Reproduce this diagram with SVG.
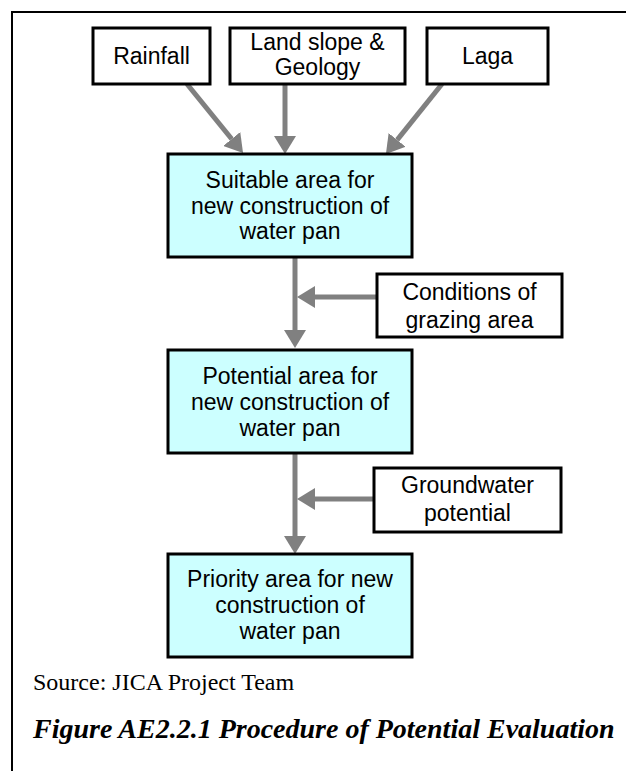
<svg xmlns="http://www.w3.org/2000/svg" width="626" height="771" viewBox="0 0 626 771">
<style>
.box{fill:#ffffff;stroke:#000000;stroke-width:3}
.hl{fill:#ccffff;stroke:#000000;stroke-width:3}
.t{font-family:"Liberation Sans",Arial,sans-serif;font-size:23px;fill:#000000;text-anchor:middle}
.c{stroke:#808080;stroke-width:5;fill:none;marker-end:url(#ah)}
.src{font-family:"Liberation Serif","Times New Roman",serif;font-size:24px;fill:#000000}
.cap{font-family:"Liberation Serif","Times New Roman",serif;font-size:28px;font-weight:bold;font-style:italic;fill:#000000}
</style>
<defs>
<marker id="ah" markerUnits="userSpaceOnUse" markerWidth="18" markerHeight="22" refX="0" refY="11" orient="auto" viewBox="0 0 18 22">
<path d="M0,0 L18,11 L0,22 Z" fill="#808080"/>
</marker>
</defs>
<rect width="626" height="771" fill="#ffffff"/>
<path d="M12,771 L12,12 L626,12" fill="none" stroke="#000000" stroke-width="2"/>
<g id="connectors">
<line class="c" x1="187" y1="84" x2="231.7" y2="139"/>
<line class="c" x1="285" y1="84" x2="285" y2="136"/>
<line class="c" x1="442" y1="84" x2="397.2" y2="139.9"/>
<line class="c" x1="295" y1="257" x2="295" y2="330"/>
<line class="c" x1="377" y1="297" x2="315" y2="297"/>
<line class="c" x1="295" y1="453" x2="295" y2="536"/>
<line class="c" x1="374" y1="499" x2="315" y2="499"/>
</g>
<g id="rainfall">
<rect class="box" x="93" y="28" width="117" height="56"/>
<text class="t" x="151.5" y="64">Rainfall</text>
</g>
<g id="landslope">
<rect class="box" x="230" y="28" width="175" height="56"/>
<text class="t" x="317.5" y="50">Land slope &amp;</text>
<text class="t" x="317.5" y="75">Geology</text>
</g>
<g id="laga">
<rect class="box" x="427" y="28" width="121" height="56"/>
<text class="t" x="487.5" y="64">Laga</text>
</g>
<g id="suitable">
<rect class="hl" x="168" y="154" width="244" height="103"/>
<text class="t" x="290" y="188">Suitable area for</text>
<text class="t" x="290" y="213.5">new construction of</text>
<text class="t" x="290" y="239">water pan</text>
</g>
<g id="conditions">
<rect class="box" x="377" y="274" width="185" height="63"/>
<text class="t" x="469.5" y="300">Conditions of</text>
<text class="t" x="469.5" y="328">grazing area</text>
</g>
<g id="potential">
<rect class="hl" x="168" y="350" width="244" height="103"/>
<text class="t" x="290" y="384">Potential area for</text>
<text class="t" x="290" y="410">new construction of</text>
<text class="t" x="290" y="436">water pan</text>
</g>
<g id="groundwater">
<rect class="box" x="374" y="468" width="187" height="64"/>
<text class="t" x="467.5" y="493">Groundwater</text>
<text class="t" x="467.5" y="521">potential</text>
</g>
<g id="priority">
<rect class="hl" x="168" y="554" width="244" height="103"/>
<text class="t" x="290" y="587">Priority area for new</text>
<text class="t" x="290" y="613">construction of</text>
<text class="t" x="290" y="639">water pan</text>
</g>
<text class="src" x="33" y="690">Source: JICA Project Team</text>
<text class="cap" x="33" y="738">Figure AE2.2.1 Procedure of Potential Evaluation</text>
</svg>
